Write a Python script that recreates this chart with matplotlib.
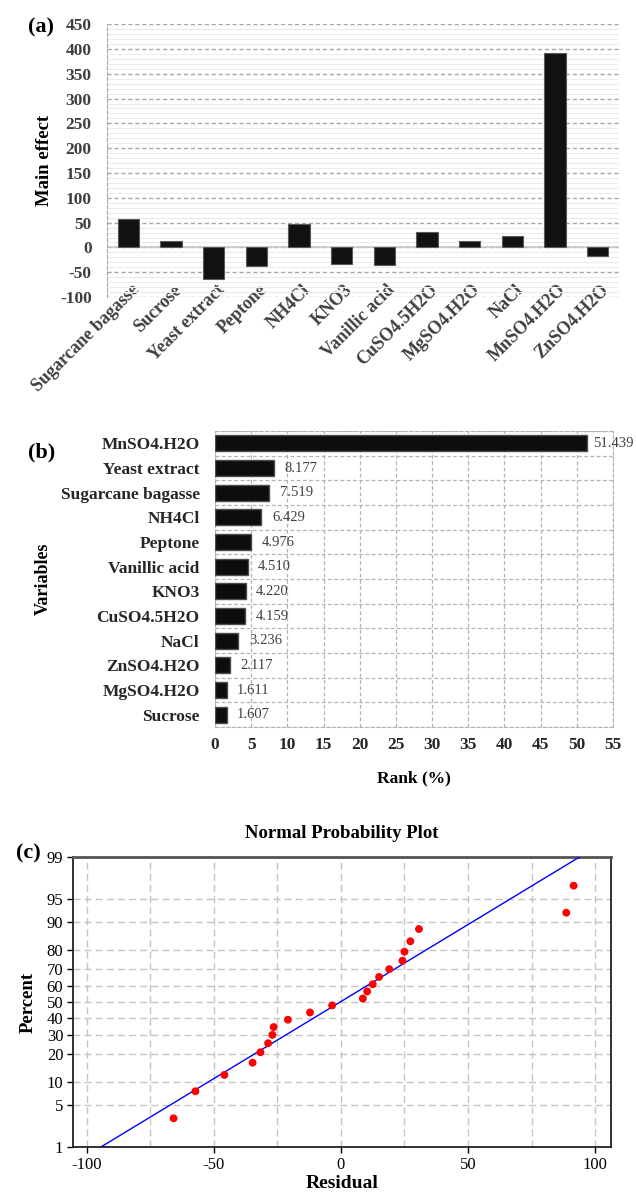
import matplotlib
matplotlib.use('Agg')  # headless
import matplotlib.pyplot as plt
import matplotlib.transforms as mtransforms
import numpy as np
from statistics import NormalDist

plt.rcParams['font.family'] = ['Liberation Serif', 'DejaVu Serif']

# (a) main effect of each factor
factors = ['Sugarcane bagasse', 'Sucrose', 'Yeast extract', 'Peptone', 'NH4Cl', 'KNO3',
           'Vanillic acid', 'CuSO4.5H2O', 'MgSO4.H2O', 'NaCl', 'MnSO4.H2O', 'ZnSO4.H2O']
main_effect = [57, 12, -63, -38, 48, -33, -35, 31, 12, 24, 392, -17]
effect_ticks = list(range(-100, 451, 50))

# (b) rank of the variables (%)
rank_vars = ['MnSO4.H2O', 'Yeast extract', 'Sugarcane bagasse', 'NH4Cl', 'Peptone',
             'Vanillic acid', 'KNO3', 'CuSO4.5H2O', 'NaCl', 'ZnSO4.H2O', 'MgSO4.H2O', 'Sucrose']
rank_pct = [51.439, 8.177, 7.519, 6.429, 4.976, 4.510, 4.220, 4.159, 3.236, 2.117, 1.611, 1.607]
rank_ticks = list(range(0, 56, 5))

# (c) normal probability plot of residuals
residuals = [-65.9, -57.3, -45.9, -34.8, -31.7, -28.7, -27.0, -26.5, -20.9, -12.2, -3.5,
             8.6, 10.3, 12.5, 15.0, 19.0, 24.2, 25.0, 27.3, 30.7, 88.7, 91.6]
percent = [3.1, 7.6, 12.1, 16.5, 21.0, 25.4, 29.9, 34.4, 38.8, 43.3, 47.8,
           52.2, 56.7, 61.2, 65.6, 70.1, 74.6, 79.0, 83.5, 87.9, 92.4, 96.9]
fit_mean = -0.3
fit_sd = 40.5
prob_ticks = [1, 5, 10, 20, 30, 40, 50, 60, 70, 80, 90, 95, 99]

fig = plt.figure(figsize=(6.36, 11.93), dpi=100)

# ---------------- (a) ----------------
ax = fig.add_axes([0.1682, 0.7510, 0.805, 0.2288])
x = np.arange(len(factors))
ax.bar(x, main_effect, width=0.5, color='#111111', edgecolor='#5a5a5a', linewidth=0.8, zorder=3)
ax.set_xlim(-0.5, len(factors) - 0.5)
ax.set_ylim(-100, 450)
ax.set_yticks(effect_ticks)
ax.set_yticks(range(-100, 451, 10), minor=True)
ax.grid(axis='y', which='minor', color='#ececec', lw=0.8, ls='-', zorder=0)
ax.grid(axis='y', which='major', color='#a6a6a6', lw=1.0, ls=(0, (3, 2)), zorder=1)
ax.axhline(0, color='#c8c8c8', lw=1.2, zorder=2)
for s in ['top', 'right', 'bottom']:
    ax.spines[s].set_visible(False)
ax.spines['left'].set_color('#a6a6a6')
ax.spines['left'].set_linestyle((0, (3, 2)))
ax.tick_params(which='both', length=0)
ax.tick_params(axis='y', pad=11)
ax.tick_params(axis='x', pad=-7)
ax.set_yticklabels([str(t) for t in effect_ticks], fontsize=12.5, fontweight='bold', color='#3f3f3f')
ax.set_xticks(x)
ax.set_xticklabels(factors, rotation=45, ha='right', va='center', rotation_mode='anchor',
                   fontsize=13, fontweight='bold', color='#3f3f3f')
shift = mtransforms.ScaledTranslation(6 / 72, 0, fig.dpi_scale_trans)
for lbl in ax.get_xticklabels():
    lbl.set_transform(lbl.get_transform() + shift)
ax.set_ylabel('Main effect', fontsize=13.5, fontweight='bold')
ax.yaxis.set_label_coords(-0.105, 0.5)
fig.text(0.065, 0.977, '(a)', fontsize=16, fontweight='bold', ha='center', va='center')

# ---------------- (b) ----------------
axb = fig.add_axes([0.338, 0.3906, 0.6258, 0.2481])
y = np.arange(len(rank_vars))
axb.barh(y, rank_pct, height=0.64, color='#0d0d0d', edgecolor='#4d4d4d', linewidth=1, zorder=3)
axb.set_xlim(0, 55)
axb.set_ylim(len(rank_vars) - 0.5, -0.5)
axb.set_xticks(rank_ticks)
axb.set_yticks(y)
axb.set_yticks(np.arange(-0.5, len(rank_vars), 1), minor=True)
axb.grid(axis='x', which='major', color='#b3b3b3', lw=0.9, ls=(0, (3, 2)), zorder=0)
axb.grid(axis='y', which='minor', color='#b3b3b3', lw=0.9, ls=(0, (3, 2)), zorder=0)
for s in axb.spines.values():
    s.set_color('#b3b3b3')
    s.set_linestyle((0, (3, 2)))
axb.tick_params(which='both', length=0)
axb.tick_params(axis='y', pad=11)
axb.tick_params(axis='x', pad=7)
axb.set_yticklabels(rank_vars, fontsize=12.5, fontweight='bold', color='#262626')
axb.set_xticklabels([str(t) for t in rank_ticks], fontsize=12.5, fontweight='bold', color='#262626')
for yi, v in zip(y, rank_pct):
    # the longest bar's label sits closer so it stays inside the figure
    off = 4.5 if v > 50 else 7.5
    axb.annotate(f'{v:.3f}', (v, yi), xytext=(off, 0), textcoords='offset points',
                 ha='left', va='center', fontsize=10.5, color='#404040', annotation_clip=False)
axb.set_ylabel('Variables', fontsize=13, fontweight='bold')
axb.yaxis.set_label_coords(-0.41, 0.5)
axb.set_xlabel('Rank (%)', fontsize=12.5, fontweight='bold')
axb.xaxis.set_label_coords(0.5, -0.145)
fig.text(0.066, 0.621, '(b)', fontsize=16, fontweight='bold', ha='center', va='center')

# ---------------- (c) ----------------
nd = NormalDist()
axc = fig.add_axes([0.1148, 0.03856, 0.8459, 0.2431])
z_pts = [nd.inv_cdf(p / 100) for p in percent]
z_lim = np.array([nd.inv_cdf(prob_ticks[0] / 100), nd.inv_cdf(prob_ticks[-1] / 100)])
axc.plot(fit_mean + fit_sd * z_lim, z_lim, color='#0000ff', lw=1, zorder=3)
axc.scatter(residuals, z_pts, s=32, color='#ff0000', edgecolors='none', zorder=4)
axc.set_xlim(-105.5, 106.3)
axc.set_ylim(z_lim[0], z_lim[1])
axc.set_xticks([-100, -50, 0, 50, 100])
axc.set_xticks([-75, -25, 25, 75], minor=True)
axc.set_yticks([nd.inv_cdf(p / 100) for p in prob_ticks])
axc.set_yticklabels([str(p) for p in prob_ticks], fontsize=12)
axc.set_xticklabels(['-100', '-50', '0', '50', '100'], fontsize=12)
axc.grid(which='both', color='#c4c4c4', lw=1, ls=(0, (5, 3)), zorder=0)
axc.tick_params(which='major', length=4, width=1, pad=3, direction='out')
axc.tick_params(which='minor', length=0)
for s in axc.spines.values():
    s.set_color('#222222')
    s.set_linewidth(1.3)
axc.spines['top'].set_color('#555555')
axc.spines['top'].set_linewidth(2)
axc.set_title('Normal Probability Plot', fontsize=13.5, fontweight='bold', pad=14)
axc.set_ylabel('Percent', fontsize=13.5, fontweight='bold')
axc.yaxis.set_label_coords(-0.068, 0.5)
axc.set_xlabel('Residual', fontsize=14, fontweight='bold')
axc.xaxis.set_label_coords(0.5, -0.098)
fig.text(0.044, 0.285, '(c)', fontsize=16, fontweight='bold', ha='center', va='center')

fig.savefig('out.png', dpi=100)
plt.close(fig)
